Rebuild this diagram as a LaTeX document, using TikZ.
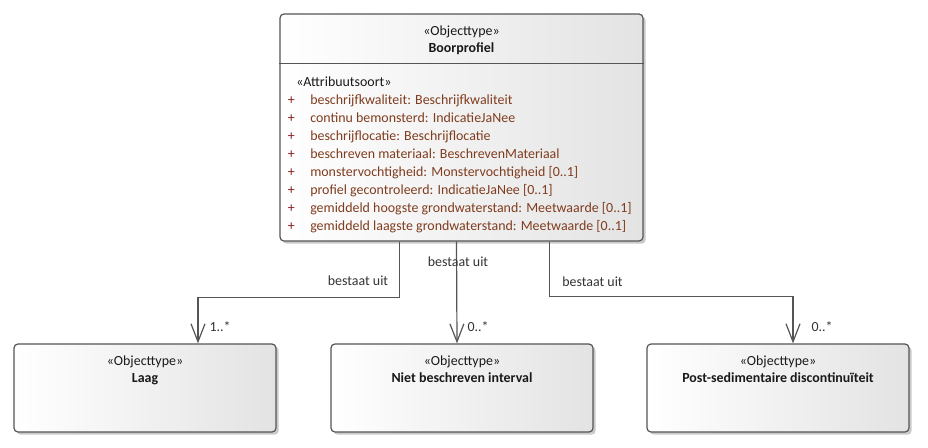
\documentclass[tikz,border=0pt]{standalone}
\usepackage{fontspec}
\setmainfont{Carlito}
\usetikzlibrary{arrows.meta, positioning, shadows}

\definecolor{rand}{RGB}{85,85,85}
\definecolor{attrrood}{RGB}{140,30,30}
\definecolor{attrbruin}{RGB}{128,60,30}

\begin{document}
\begin{tikzpicture}[
  x=0.75pt, y=-0.75pt,
  font=\fontsize{10.45}{12.8}\selectfont,
  >={Straight Barb[length=13.5pt, width=10.5pt]},
  klasse/.style={draw=rand, line width=0.9pt, rectangle, rounded corners=3pt, left color=white, right color=black!11, drop shadow={shadow xshift=2pt, shadow yshift=-2pt, fill=black!35, opacity=0.6}},
  titel/.style={align=center, inner sep=0pt, text=black!90},
  attr/.style={anchor=west, inner sep=0pt, text height=0.72em, text depth=0.2em, text=attrbruin},
  plus/.style={attr, text=attrrood},
  assoc/.style={->, draw=rand, line width=0.9pt},
  lbl/.style={inner sep=1pt, text=black!80}
]
  \useasboundingbox (0,0) rectangle (928,447);

  % Hoofdklasse
  \node[klasse, minimum width=363*0.75pt, minimum height=227*0.75pt] (boor) at (461.5,127.5) {};
  \node[titel, below=9.3pt of boor.north] (boortitel) {«Objecttype»\\\textbf{Boorprofiel}};
  \draw[draw=rand, line width=0.9pt] (boor.west |- 0,63.5) -- (boor.east |- 0,63.5);

  % Attributen
  \node[attr, text=black!90] (stereo) at (296,83.3) {«Attribuutsoort»};
  \foreach \txt [count=\i] in {
      beschrijfkwaliteit: Beschrijfkwaliteit,
      continu bemonsterd: IndicatieJaNee,
      beschrijflocatie: Beschrijflocatie,
      beschreven materiaal: BeschrevenMateriaal,
      monstervochtigheid: Monstervochtigheid [0..1],
      profiel gecontroleerd: IndicatieJaNee [0..1],
      gemiddeld hoogste grondwaterstand: Meetwaarde [0..1],
      gemiddeld laagste grondwaterstand: Meetwaarde [0..1]} {
    \node[plus] (plus\i) at (287.5,{82.7+18*\i}) {+};
    \node[attr] (attr\i) at (310,{82.7+18*\i}) {\txt};
  }

  % Onderliggende klassen
  \node[klasse, minimum width=262*0.75pt, minimum height=88*0.75pt] (laag) at (145,388) {};
  \node[titel, below=9.3pt of laag.north] (laagtitel) {«Objecttype»\\\textbf{Laag}};
  \node[klasse, minimum width=262*0.75pt, minimum height=88*0.75pt] (niet) at (462,388) {};
  \node[titel, below=9.3pt of niet.north] (niettitel) {«Objecttype»\\\textbf{Niet beschreven interval}};
  \node[klasse, minimum width=262*0.75pt, minimum height=88*0.75pt] (post) at (778,388) {};
  \node[titel, below=9.3pt of post.north] (posttitel) {«Objecttype»\\\textbf{Post-sedimentaire discontinuïteit}};

  % Associaties
  \draw[assoc] ([xshift=-46.5pt]boor.south) -- ++(0,56) -| ([xshift=39.75pt]laag.north);
  \draw[assoc] ([xshift=-3.75pt]boor.south) -- ([xshift=-3.75pt]niet.north);
  \draw[assoc] ([xshift=66pt]boor.south) -- ++(0,55) -| ([xshift=11.25pt]post.north);

  % Rollen en multipliciteiten
  \node[lbl] (rol1) at (358,281) {bestaat uit};
  \node[lbl] (rol2) at (458,262) {bestaat uit};
  \node[lbl] (rol3) at (592.5,282) {bestaat uit};
  \node[lbl, anchor=west] (mult1) at (208,327) {1..*};
  \node[lbl, anchor=west] (mult2) at (466,327) {0..*};
  \node[lbl, anchor=west] (mult3) at (810,327) {0..*};

\end{tikzpicture}
\end{document}
